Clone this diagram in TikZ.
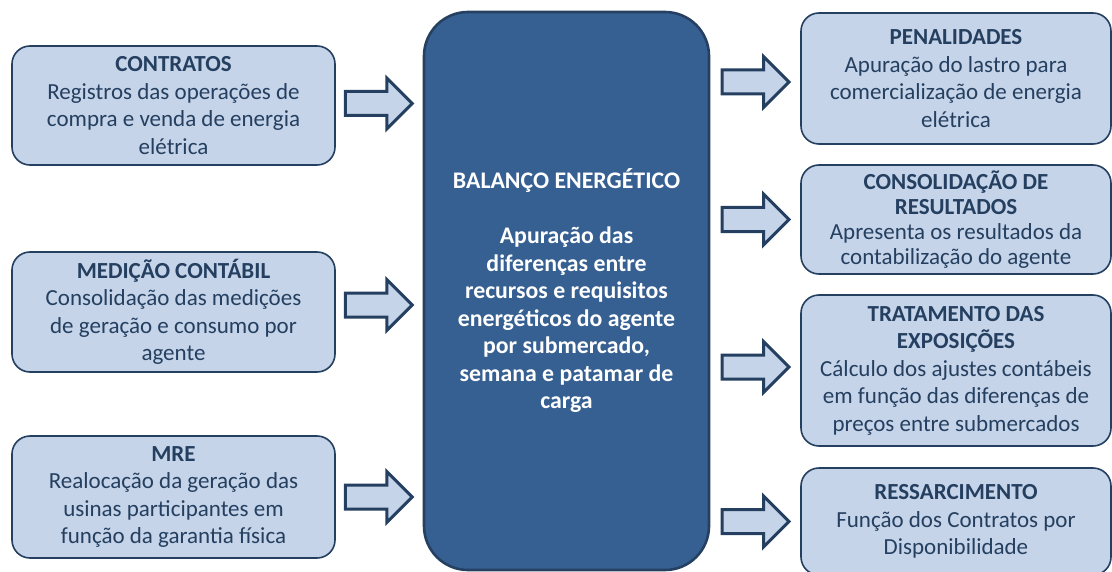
\documentclass[tikz,border=0pt]{standalone}
\usepackage{fontspec}
\setmainfont{Carlito}
\usepackage{tikz}
\usetikzlibrary{positioning, shapes.arrows}
\definecolor{azulclaro}{HTML}{C5D4E8}
\definecolor{azultexto}{HTML}{243F60}
\definecolor{azulcentro}{HTML}{376092}
\definecolor{contorno}{HTML}{254061}
\begin{document}
\begin{tikzpicture}[x = .5pt, y = -.5pt,
    every node/.style = { align = center, text = azultexto, font = \fontsize{11.5}{13.75}\selectfont },
    caixa/.style = { draw = azultexto, fill = azulclaro, rounded corners = 9pt, line width = .8pt, inner sep = 0pt },
    esquerda/.style = { caixa, minimum width = 161.5pt },
    direita/.style = { caixa, minimum width = 155pt },
    seta/.style = { draw = azultexto, fill = azulclaro, shape = single arrow, line width = 1.5pt,
      minimum height = 33.5pt, inner xsep = 0pt, inner ysep = 5.25pt, single arrow head extend = 6.75pt } ]
  \useasboundingbox (0,0) rectangle (1112,572);
  \clip (0,0) rectangle (1112,572);

  \node [draw = contorno, fill = azulcentro, line width = 1.3pt, rounded corners = 22pt,
    minimum width = 142.5pt, minimum height = 279pt, text = white,
    font = \fontsize{11.9}{13.75}\selectfont\bfseries ] (balanco) at (566.5,291)
    { BALANÇO ENERGÉTICO \\[13.75pt] Apuração das \\ diferenças entre \\ recursos e requisitos \\
      energéticos do agente \\ por submercado, \\ semana e patamar de \\ carga };

  \node [esquerda, minimum height = 59.5pt] (contratos) at (173.5,105.5)
    { \textbf{CONTRATOS} \\ Registros das operações de \\ compra e venda de energia \\ elétrica };
  \node [esquerda, minimum height = 60pt] (medicao) at (173.5,312)
    { \textbf{MEDIÇÃO CONTÁBIL} \\ Consolidação das medições \\ de geração e consumo por \\ agente };
  \node [esquerda, minimum height = 61pt] (mre) at (173.5,497)
    { \textbf{MRE} \\ Realocação da geração das \\ usinas participantes em \\ função da garantia física };

  \node [direita, minimum height = 65.5pt] (penalidades) at (956,78.5)
    { \textbf{PENALIDADES} \\ Apuração do lastro para \\ comercialização de energia \\ elétrica };
  \node [direita, minimum height = 54.5pt, font = \fontsize{11.5}{12.5}\selectfont] (consolidacao) at (956,219.5)
    { \textbf{CONSOLIDAÇÃO DE} \\ \textbf{RESULTADOS} \\ Apresenta os resultados da \\ contabilização do agente };
  \node [direita, minimum height = 75.5pt] (tratamento) at (956,370.5)
    { \textbf{TRATAMENTO DAS} \\ \textbf{EXPOSIÇÕES} \\ Cálculo dos ajustes contábeis \\
      em função das diferenças de \\ preços entre submercados };
  \node [direita, minimum height = 53.5pt] (ressarcimento) at (956,521.5)
    { \textbf{RESSARCIMENTO} \\ Função dos Contratos por \\ Disponibilidade };

  \node [seta, right = 4pt of contratos, yshift = 1pt] (s1) {};
  \node [seta, right = 4pt of medicao, yshift = 3.5pt] (s2) {};
  \node [seta, right = 4pt of mre] (s3) {};
  \node [seta, left = 4.5pt of penalidades, yshift = -1.75pt] (s4) {};
  \node [seta, left = 4.5pt of consolidacao] (s5) {};
  \node [seta, left = 4.5pt of tratamento, yshift = 1.75pt] (s6) {};
  \node [seta, left = 4.5pt of ressarcimento] (s7) {};
\end{tikzpicture}
\end{document}
